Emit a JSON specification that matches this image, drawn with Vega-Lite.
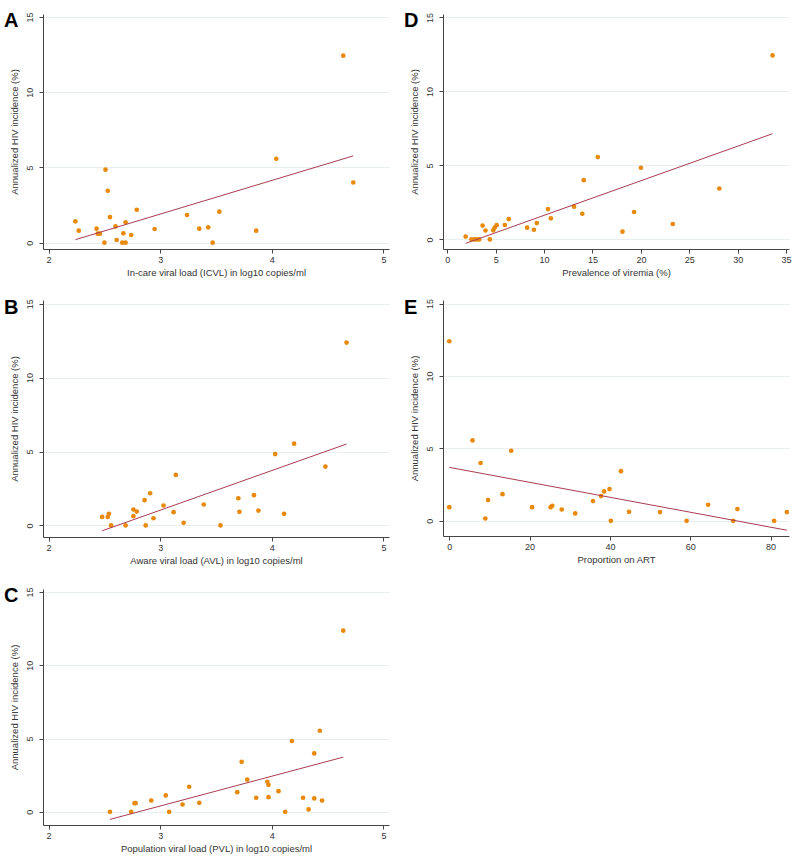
{
  "$schema": "https://vega.github.io/schema/vega-lite/v6.json",
  "background": "white",
  "padding": {"left": 4, "top": 11, "right": 5, "bottom": 5},
  "config": {
    "view": {"stroke": null},
    "font": "Liberation Sans",
    "axis": {
      "domainColor": "#444", "tickColor": "#444", "tickSize": 4,
      "labelFont": "Liberation Sans", "labelFontSize": 9, "labelColor": "#333",
      "titleFont": "Liberation Sans", "titleFontSize": 9.5, "titleFontWeight": "normal", "titleColor": "#333",
      "labelFlush": false, "labelOverlap": false, "grid": false
    },
    "axisX": {"labelPadding": 2, "titlePadding": 3, "format": "d"},
    "axisY": {"grid": true, "gridColor": "#e9eff1", "labelAngle": -90, "labelAlign": "center", "labelBaseline": "bottom", "labelPadding": 5, "titlePadding": 6, "format": "d"},
    "title": {"anchor": "start", "frame": "bounds", "fontSize": 20, "font": "Liberation Sans", "fontWeight": "bold", "color": "#000", "offset": 0, "baseline": "top", "dx": -5, "dy": 23}
  },
  "datasets": {
    "pts": [
      {"panel": "A", "x": 2.24, "y": 1.42}, {"panel": "A", "x": 2.27, "y": 0.80}, {"panel": "A", "x": 2.43, "y": 0.93}, {"panel": "A", "x": 2.44, "y": 0.60}, {"panel": "A", "x": 2.46, "y": 0.60}, {"panel": "A", "x": 2.50, "y": 0}, {"panel": "A", "x": 2.51, "y": 4.85}, {"panel": "A", "x": 2.53, "y": 3.45}, {"panel": "A", "x": 2.55, "y": 1.70}, {"panel": "A", "x": 2.60, "y": 1.08}, {"panel": "A", "x": 2.61, "y": 0.18}, {"panel": "A", "x": 2.66, "y": 0}, {"panel": "A", "x": 2.67, "y": 0.62}, {"panel": "A", "x": 2.69, "y": 0}, {"panel": "A", "x": 2.69, "y": 1.35}, {"panel": "A", "x": 2.74, "y": 0.51}, {"panel": "A", "x": 2.79, "y": 2.19}, {"panel": "A", "x": 2.95, "y": 0.91}, {"panel": "A", "x": 3.24, "y": 1.84}, {"panel": "A", "x": 3.35, "y": 0.93}, {"panel": "A", "x": 3.43, "y": 1.02}, {"panel": "A", "x": 3.47, "y": 0}, {"panel": "A", "x": 3.53, "y": 2.06}, {"panel": "A", "x": 3.86, "y": 0.80}, {"panel": "A", "x": 4.04, "y": 5.58}, {"panel": "A", "x": 4.64, "y": 12.43}, {"panel": "A", "x": 4.73, "y": 4.00},
      {"panel": "B", "x": 2.48, "y": 0.58}, {"panel": "B", "x": 2.53, "y": 0.58}, {"panel": "B", "x": 2.54, "y": 0.79}, {"panel": "B", "x": 2.56, "y": 0}, {"panel": "B", "x": 2.69, "y": 0}, {"panel": "B", "x": 2.76, "y": 1.08}, {"panel": "B", "x": 2.76, "y": 0.63}, {"panel": "B", "x": 2.79, "y": 0.94}, {"panel": "B", "x": 2.86, "y": 1.71}, {"panel": "B", "x": 2.87, "y": 0}, {"panel": "B", "x": 2.91, "y": 2.18}, {"panel": "B", "x": 2.94, "y": 0.49}, {"panel": "B", "x": 3.03, "y": 1.35}, {"panel": "B", "x": 3.12, "y": 0.90}, {"panel": "B", "x": 3.14, "y": 3.42}, {"panel": "B", "x": 3.21, "y": 0.18}, {"panel": "B", "x": 3.39, "y": 1.42}, {"panel": "B", "x": 3.54, "y": 0}, {"panel": "B", "x": 3.70, "y": 1.84}, {"panel": "B", "x": 3.71, "y": 0.92}, {"panel": "B", "x": 3.84, "y": 2.05}, {"panel": "B", "x": 3.88, "y": 1.01}, {"panel": "B", "x": 4.03, "y": 4.83}, {"panel": "B", "x": 4.11, "y": 0.79}, {"panel": "B", "x": 4.20, "y": 5.53}, {"panel": "B", "x": 4.48, "y": 3.98}, {"panel": "B", "x": 4.67, "y": 12.37},
      {"panel": "C", "x": 2.55, "y": 0}, {"panel": "C", "x": 2.74, "y": 0}, {"panel": "C", "x": 2.77, "y": 0.59}, {"panel": "C", "x": 2.78, "y": 0.59}, {"panel": "C", "x": 2.92, "y": 0.77}, {"panel": "C", "x": 3.05, "y": 1.12}, {"panel": "C", "x": 3.08, "y": 0}, {"panel": "C", "x": 3.20, "y": 0.50}, {"panel": "C", "x": 3.26, "y": 1.71}, {"panel": "C", "x": 3.35, "y": 0.61}, {"panel": "C", "x": 3.69, "y": 1.34}, {"panel": "C", "x": 3.73, "y": 3.41}, {"panel": "C", "x": 3.78, "y": 2.19}, {"panel": "C", "x": 3.86, "y": 0.96}, {"panel": "C", "x": 3.96, "y": 2.05}, {"panel": "C", "x": 3.97, "y": 1.84}, {"panel": "C", "x": 3.97, "y": 1.00}, {"panel": "C", "x": 4.06, "y": 1.41}, {"panel": "C", "x": 4.12, "y": 0}, {"panel": "C", "x": 4.18, "y": 4.83}, {"panel": "C", "x": 4.28, "y": 0.96}, {"panel": "C", "x": 4.33, "y": 0.16}, {"panel": "C", "x": 4.38, "y": 3.98}, {"panel": "C", "x": 4.38, "y": 0.91}, {"panel": "C", "x": 4.43, "y": 5.53}, {"panel": "C", "x": 4.45, "y": 0.77}, {"panel": "C", "x": 4.64, "y": 12.36},
      {"panel": "D", "x": 1.9, "y": 0.19}, {"panel": "D", "x": 2.5, "y": 0}, {"panel": "D", "x": 2.8, "y": 0}, {"panel": "D", "x": 3.05, "y": 0}, {"panel": "D", "x": 3.3, "y": 0}, {"panel": "D", "x": 3.65, "y": 0.93}, {"panel": "D", "x": 3.95, "y": 0.6}, {"panel": "D", "x": 4.4, "y": 0}, {"panel": "D", "x": 4.75, "y": 0.61}, {"panel": "D", "x": 4.9, "y": 0.8}, {"panel": "D", "x": 5.1, "y": 0.96}, {"panel": "D", "x": 5.95, "y": 0.97}, {"panel": "D", "x": 6.35, "y": 1.37}, {"panel": "D", "x": 8.25, "y": 0.79}, {"panel": "D", "x": 8.95, "y": 0.65}, {"panel": "D", "x": 9.25, "y": 1.1}, {"panel": "D", "x": 10.4, "y": 2.05}, {"panel": "D", "x": 10.7, "y": 1.42}, {"panel": "D", "x": 13.1, "y": 2.21}, {"panel": "D", "x": 13.95, "y": 1.73}, {"panel": "D", "x": 14.1, "y": 4.0}, {"panel": "D", "x": 15.55, "y": 5.56}, {"panel": "D", "x": 18.1, "y": 0.52}, {"panel": "D", "x": 19.3, "y": 1.85}, {"panel": "D", "x": 20.0, "y": 4.84}, {"panel": "D", "x": 23.3, "y": 1.04}, {"panel": "D", "x": 28.1, "y": 3.44}, {"panel": "D", "x": 33.6, "y": 12.43},
      {"panel": "E", "x": 0, "y": 12.40}, {"panel": "E", "x": 0, "y": 0.94}, {"panel": "E", "x": 5.78, "y": 5.55}, {"panel": "E", "x": 7.8, "y": 3.99}, {"panel": "E", "x": 8.97, "y": 0.16}, {"panel": "E", "x": 9.64, "y": 1.43}, {"panel": "E", "x": 13.24, "y": 1.84}, {"panel": "E", "x": 15.42, "y": 4.84}, {"panel": "E", "x": 20.62, "y": 0.94}, {"panel": "E", "x": 25.23, "y": 0.94}, {"panel": "E", "x": 25.65, "y": 1.04}, {"panel": "E", "x": 28.0, "y": 0.78}, {"panel": "E", "x": 31.35, "y": 0.51}, {"panel": "E", "x": 35.79, "y": 1.36}, {"panel": "E", "x": 37.8, "y": 1.71}, {"panel": "E", "x": 38.56, "y": 2.03}, {"panel": "E", "x": 39.9, "y": 2.19}, {"panel": "E", "x": 40.23, "y": 0}, {"panel": "E", "x": 42.75, "y": 3.43}, {"panel": "E", "x": 44.76, "y": 0.62}, {"panel": "E", "x": 52.47, "y": 0.60}, {"panel": "E", "x": 59.1, "y": 0}, {"panel": "E", "x": 64.46, "y": 1.11}, {"panel": "E", "x": 70.7, "y": 0}, {"panel": "E", "x": 71.75, "y": 0.81}, {"panel": "E", "x": 80.9, "y": 0}, {"panel": "E", "x": 84.07, "y": 0.60}
    ],
    "fit": [
      {"panel": "A", "x": 2.24, "y": 0.20}, {"panel": "A", "x": 4.73, "y": 5.77},
      {"panel": "B", "x": 2.48, "y": -0.36}, {"panel": "B", "x": 4.67, "y": 5.51},
      {"panel": "C", "x": 2.55, "y": -0.52}, {"panel": "C", "x": 4.64, "y": 3.73},
      {"panel": "D", "x": 1.9, "y": -0.27}, {"panel": "D", "x": 33.6, "y": 7.14},
      {"panel": "E", "x": 0, "y": 3.69}, {"panel": "E", "x": 84.07, "y": -0.65}
    ]
  },
  "columns": 2,
  "spacing": {"row": 20, "column": 15},
  "concat": [
    {
      "title": "A", "width": 346, "height": 235,
      "layer": [
        {"data": {"name": "pts"}, "transform": [{"filter": "datum.panel === 'A'"}],
         "mark": {"type": "circle", "size": 22, "color": "#e8890c", "opacity": 1},
         "encoding": {
           "x": {"field": "x", "type": "quantitative", "scale": {"domain": [1.95, 5.05], "nice": false, "zero": false}, "axis": {"values": [2, 3, 4, 5], "title": "In-care viral load (ICVL) in log10 copies/ml"}},
           "y": {"field": "y", "type": "quantitative", "scale": {"domain": [-0.42, 15.2], "nice": false, "zero": false}, "axis": {"values": [0, 5, 10, 15], "title": "Annualized HIV incidence (%)"}}}},
        {"data": {"name": "fit"}, "transform": [{"filter": "datum.panel === 'A'"}],
         "mark": {"type": "line", "color": "#a83c50", "strokeWidth": 1},
         "encoding": {"x": {"field": "x", "type": "quantitative"}, "y": {"field": "y", "type": "quantitative"}}}
      ]
    },
    {
      "title": "D", "width": 346, "height": 235,
      "layer": [
        {"data": {"name": "pts"}, "transform": [{"filter": "datum.panel === 'D'"}],
         "mark": {"type": "circle", "size": 22, "color": "#e8890c", "opacity": 1},
         "encoding": {
           "x": {"field": "x", "type": "quantitative", "scale": {"domain": [-0.44, 35.3], "nice": false, "zero": false}, "axis": {"values": [0, 5, 10, 15, 20, 25, 30, 35], "title": "Prevalence of viremia (%)"}},
           "y": {"field": "y", "type": "quantitative", "scale": {"domain": [-0.65, 15.23], "nice": false, "zero": false}, "axis": {"values": [0, 5, 10, 15], "title": "Annualized HIV incidence (%)"}}}},
        {"data": {"name": "fit"}, "transform": [{"filter": "datum.panel === 'D'"}],
         "mark": {"type": "line", "color": "#a83c50", "strokeWidth": 1},
         "encoding": {"x": {"field": "x", "type": "quantitative"}, "y": {"field": "y", "type": "quantitative"}}}
      ]
    },
    {
      "title": "B", "width": 346, "height": 237,
      "layer": [
        {"data": {"name": "pts"}, "transform": [{"filter": "datum.panel === 'B'"}],
         "mark": {"type": "circle", "size": 22, "color": "#e8890c", "opacity": 1},
         "encoding": {
           "x": {"field": "x", "type": "quantitative", "scale": {"domain": [1.95, 5.05], "nice": false, "zero": false}, "axis": {"values": [2, 3, 4, 5], "title": "Aware viral load (AVL) in log10 copies/ml"}},
           "y": {"field": "y", "type": "quantitative", "scale": {"domain": [-0.78, 15.25], "nice": false, "zero": false}, "axis": {"values": [0, 5, 10, 15], "title": "Annualized HIV incidence (%)"}}}},
        {"data": {"name": "fit"}, "transform": [{"filter": "datum.panel === 'B'"}],
         "mark": {"type": "line", "color": "#a83c50", "strokeWidth": 1},
         "encoding": {"x": {"field": "x", "type": "quantitative"}, "y": {"field": "y", "type": "quantitative"}}}
      ]
    },
    {
      "title": "E", "width": 346, "height": 236,
      "layer": [
        {"data": {"name": "pts"}, "transform": [{"filter": "datum.panel === 'E'"}],
         "mark": {"type": "circle", "size": 22, "color": "#e8890c", "opacity": 1},
         "encoding": {
           "x": {"field": "x", "type": "quantitative", "scale": {"domain": [-1.57, 84.6], "nice": false, "zero": false}, "axis": {"values": [0, 20, 40, 60, 80], "title": "Proportion on ART"}},
           "y": {"field": "y", "type": "quantitative", "scale": {"domain": [-1.05, 15.25], "nice": false, "zero": false}, "axis": {"values": [0, 5, 10, 15], "title": "Annualized HIV incidence (%)"}}}},
        {"data": {"name": "fit"}, "transform": [{"filter": "datum.panel === 'E'"}],
         "mark": {"type": "line", "color": "#a83c50", "strokeWidth": 1},
         "encoding": {"x": {"field": "x", "type": "quantitative"}, "y": {"field": "y", "type": "quantitative"}}}
      ]
    },
    {
      "title": "C", "width": 346, "height": 236,
      "layer": [
        {"data": {"name": "pts"}, "transform": [{"filter": "datum.panel === 'C'"}],
         "mark": {"type": "circle", "size": 22, "color": "#e8890c", "opacity": 1},
         "encoding": {
           "x": {"field": "x", "type": "quantitative", "scale": {"domain": [1.95, 5.05], "nice": false, "zero": false}, "axis": {"values": [2, 3, 4, 5], "title": "Population viral load (PVL) in log10 copies/ml"}},
           "y": {"field": "y", "type": "quantitative", "scale": {"domain": [-0.9, 15.2], "nice": false, "zero": false}, "axis": {"values": [0, 5, 10, 15], "title": "Annualized HIV incidence (%)"}}}},
        {"data": {"name": "fit"}, "transform": [{"filter": "datum.panel === 'C'"}],
         "mark": {"type": "line", "color": "#a83c50", "strokeWidth": 1},
         "encoding": {"x": {"field": "x", "type": "quantitative"}, "y": {"field": "y", "type": "quantitative"}}}
      ]
    }
  ]
}
